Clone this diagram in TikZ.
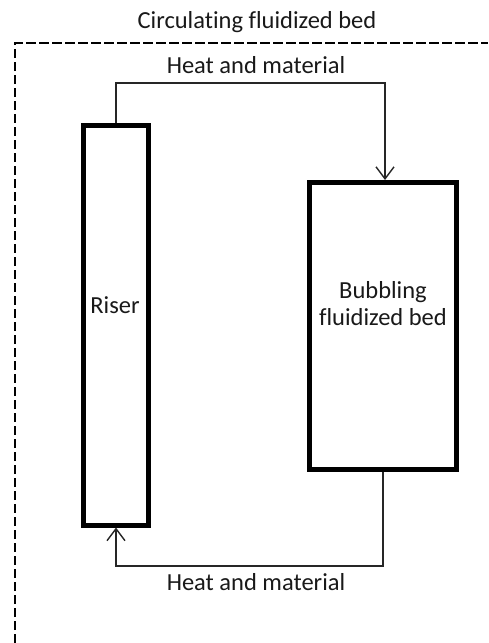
\documentclass[tikz,border=0pt]{standalone}
\usepackage{fontspec}
\setmainfont[Ligatures=NoCommon]{Carlito}
\usetikzlibrary{arrows.meta,positioning}
\definecolor{BedInk}{gray}{0.1}
\definecolor{BedLine}{gray}{0.15}
\tikzset{
    bed/diagram/.style={
        font=\fontsize{24.5}{27}\selectfont,
        text=BedInk,
        line join=miter
    },
    bed/vessel/.style={draw=black, line width=5pt, inner sep=0pt},
    bed/flow/.style={
        draw=BedLine, line width=1.4pt,
        -{Straight Barb[length=12pt, width=18pt]}
    },
    bed/frame/.style={draw=black, line width=2.8pt, dash pattern=on 9.5pt off 3.5pt},
    bed/label/.style={anchor=base, inner sep=0pt, align=center}
}
\begin{document}
\begin{tikzpicture}[bed/diagram, x=1pt, y=-1pt]
    \useasboundingbox (0,0) rectangle (488,643);
    \draw[bed/frame] (15,643) -- (15,43) -- (488,43);
    \node[bed/label] (title) at (257,28) {Circulating fluidized bed};

    \node[bed/vessel, minimum width=65pt, minimum height=400pt] (riser) at (116,325) {};
    \node[bed/vessel, minimum width=147pt, minimum height=286.5pt] (bfb) at (383,325.75) {};
    \node[bed/label] (risertext) at (115,313) {Riser};
    \node[bed/label] (bfbtext) at (383,325) {Bubbling\\fluidized bed};

    \coordinate (uplink) at (250,83);
    \coordinate (downlink) at (250,566);
    \draw[bed/flow] (riser.north) |- (uplink) -| ([xshift=2pt]bfb.north);
    \draw[bed/flow] (bfb.south) |- (downlink) -| (riser.south);
    \node[bed/label] (uptext) at (256,73) {Heat and material};
    \node[bed/label] (downtext) at (256,590) {Heat and material};
\end{tikzpicture}
\end{document}
